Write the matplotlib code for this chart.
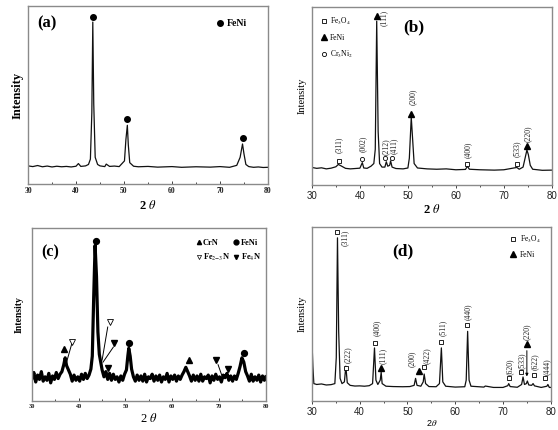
import matplotlib
matplotlib.use("Agg")
import matplotlib.pyplot as plt
from matplotlib.lines import Line2D
from matplotlib.ticker import MultipleLocator

plt.rcParams['mathtext.fontset'] = 'stix'

SERIF = 'Liberation Serif'
SANS = 'Liberation Sans'

# ---------------- data ----------------
# (a) FeNi only
a_x = [30, 31, 32, 33, 34, 35, 36, 37, 38, 39, 40, 40.5, 41, 42, 42.6, 43.0, 43.3, 43.5,
       43.7, 44.0, 44.5, 45, 46, 46.3, 47, 48, 49, 50.1, 50.4, 50.7, 50.9, 51.2, 52, 53,
       55, 57, 60, 62, 65, 68, 70, 72, 73.5, 74.2, 74.7, 75.0, 75.4, 76, 77, 78, 79, 80]
a_y = [10.2, 9.8, 10.4, 9.7, 10.1, 9.6, 10.0, 9.7, 9.9, 9.6, 10.0, 11.5, 9.9, 10.2, 11.0,
       14, 40, 91, 45, 15, 11, 10.2, 9.8, 11.2, 9.9, 10.1, 9.8, 13, 25, 33, 22, 12, 10.0,
       9.7, 9.9, 9.5, 9.8, 9.4, 9.7, 9.5, 9.8, 9.4, 10.5, 15, 22.5, 17, 11, 9.8, 9.4, 9.6,
       9.3, 9.4]
a_feni = ([43.5, 50.7, 74.7], [94, 36.5, 26])

# (b)
b_x = [30, 31, 32, 33, 34, 35, 35.5, 36, 37, 38, 39, 40, 40.5, 40.8, 41.5, 42.3, 42.9,
       43.2, 43.5, 43.8, 44.1, 44.6, 45.2, 45.5, 45.8, 46.2, 46.4, 46.7, 47.5, 49, 50,
       50.3, 50.7, 51.0, 51.3, 52, 54, 56, 58, 60, 62, 62.4, 62.8, 65, 68, 70, 72.7, 73.2,
       74, 74.5, 74.8, 75.1, 75.5, 76, 78, 80]
b_y = [9.8, 9.3, 9.6, 9.0, 9.4, 10.2, 11.5, 10.8, 9.3, 9.0, 9.2, 9.4, 12.5, 9.5, 9.3,
       10.5, 12, 20, 92, 30, 12, 10, 10, 13, 10.5, 11, 13.5, 10, 9.2, 9.0, 9.5, 15, 38, 25,
       12, 9.5, 9.0, 8.8, 9.0, 8.5, 8.7, 10.5, 8.8, 8.5, 8.3, 8.5, 9.8, 8.8, 10, 16, 19.6,
       17, 11, 8.8, 8.2, 8.3]
b_fe3o4 = ([35.6, 62.4, 72.8], [13.5, 11.8, 11.8])
b_feni = ([43.5, 50.7, 74.8], [95, 40, 22])
b_cr3ni2 = ([40.5, 45.2, 46.7], [14.6, 15, 15])
b_hkl = ['(311)', '(002)', '(111)', '(212)', '(411)', '(200)', '(400)', '(533)', '(220)']
b_hkl_x = [35.6, 40.6, 45.0, 45.3, 47.1, 51.0, 62.4, 72.8, 74.9]
b_hkl_y = [22.5, 23, 93.8, 21.3, 22, 49.4, 19.7, 20.2, 29]

# (c) noisy nitrided pattern
c_x = [30.0, 30.4, 30.8, 31.2, 31.6, 32.0, 32.4, 32.8, 33.2, 33.6, 34.0, 34.4, 34.8, 35.2,
       35.6, 36.0, 36.4, 36.8, 37.1, 37.4, 37.8, 38.2, 38.6, 39.0, 39.4, 39.8, 40.2, 40.6,
       41.0, 41.4, 41.8, 42.2, 42.6, 42.9, 43.2, 43.5, 43.8, 44.1, 44.4, 44.7, 45.0, 45.4,
       45.8, 46.2, 46.6, 47.0, 47.4, 47.8, 48.2, 48.6, 49.0, 49.4, 49.8, 50.2, 50.5, 50.7,
       51.0, 51.3, 51.7, 52.1, 52.5, 52.9, 53.3, 53.7, 54.1, 54.5, 54.9, 55.3, 55.7, 56.1,
       56.5, 56.9, 57.3, 57.7, 58.1, 58.5, 58.9, 59.3, 59.7, 60.1, 60.5, 60.9, 61.3, 61.7,
       62.1, 62.5, 62.9, 63.3, 63.7, 64.1, 64.5, 64.9, 65.3, 65.7, 66.1, 66.5, 66.9, 67.3,
       67.7, 68.1, 68.5, 68.9, 69.3, 69.7, 70.1, 70.5, 70.9, 71.3, 71.7, 72.1, 72.5, 72.9,
       73.3, 73.7, 74.1, 74.5, 74.9, 75.3, 75.7, 76.1, 76.5, 76.9, 77.3, 77.7, 78.1, 78.5,
       78.9, 79.3, 79.7, 80.0]
c_y = [13, 16.5, 11, 15, 12.5, 17, 11.5, 14, 12, 16, 10.5, 14.5, 12.5, 16.5, 13, 15.5, 17,
       21, 25, 20.5, 18, 15.5, 11.5, 15, 12, 14, 11.5, 15.5, 12.5, 16, 13, 15, 18.5, 26, 60,
       90, 72, 40, 27, 22.5, 18, 14, 17, 12.5, 16, 12, 15.5, 12.5, 14, 11, 14.5, 12, 15.5,
       18, 26, 30.5, 26, 18.5, 14, 11.5, 15, 12, 14.5, 11.5, 15.5, 11, 14, 13, 15.5, 11.5,
       14.5, 12, 15, 11, 14, 12.5, 16, 11, 14.5, 12.5, 15, 11.5, 14.5, 12.5, 15, 17, 19.5,
       17, 14.5, 11.5, 15, 12, 14.5, 11.5, 15.5, 11.5, 14, 13, 15, 10.5, 14.5, 12, 15.5,
       12.5, 14, 11, 15, 13.5, 16, 12, 14.5, 11.5, 14.5, 12.5, 16, 20, 25, 22.5, 17, 14.5,
       11.5, 15.5, 11.5, 14, 12, 15, 11, 14.5, 12, 14]
c_crn = ([36.9, 63.5], [30, 23.7])
c_feni = ([43.7, 50.7, 75.3], [92.5, 33.5, 27.7])
c_fe23n = ([38.5, 46.7], [34, 45.7])
c_fe4n = ([47.6, 46.3, 69.3, 71.9], [33.5, 19, 23.7, 18.5])
c_leaders = [((38.5, 33.0), (37.4, 22.5)), ((46.2, 42.8), (45.0, 23.7)),
             ((47.4, 31.2), (45.2, 22.5)), ((69.8, 21.0), (70.8, 13.3))]

# (d)
d_x = [30.0, 30.2, 30.4, 31, 32, 33, 34, 34.8, 35.1, 35.35, 35.6, 35.9, 36.3, 36.8, 37.1,
       37.4, 38, 39, 40, 41, 42, 42.7, 43.1, 43.4, 43.8, 44.3, 44.5, 44.7, 45.5, 47, 49,
       50.5, 51.4, 51.7, 52.0, 52.8, 53.3, 53.5, 53.8, 54.5, 56, 56.7, 57.1, 57.4, 58, 60,
       62, 62.3, 62.6, 62.9, 63.3, 66, 66.3, 68, 70, 71.0, 71.2, 71.5, 73, 73.9, 74.2, 74.5,
       74.9, 75.1, 75.4, 76.0, 76.3, 76.6, 78, 79.2, 79.4, 79.7, 80]
d_y = [35, 20, 10, 9.5, 9.8, 9.2, 9.4, 10, 25, 93.7, 40, 13, 10, 11, 20, 10.5, 9, 8.6,
       8.7, 8.5, 8.8, 10, 30.5, 12, 9.5, 12, 16.5, 10, 8.5, 8.3, 8.2, 8.3, 9, 13, 9, 8.5,
       11, 15.5, 10, 8.3, 8.2, 10, 30.5, 11, 8.5, 8, 8.2, 12, 40, 12, 8.5, 8, 8.6, 7.8,
       7.8, 8.8, 10, 8.3, 7.9, 9.5, 13.8, 9.5, 10, 11.5, 9.2, 9.0, 10, 8.7, 7.8, 8.5, 9.5,
       7.8, 7.8]
d_fe3o4 = ([35.3, 37.05, 43.2, 53.5, 57.0, 62.5, 71.3, 73.8, 76.5, 78.9],
           [97, 18.8, 33.5, 19.7, 34, 43.7, 13, 16.5, 15, 13])
d_feni = ([44.4, 52.4, 75.0], [19.2, 17.2, 32.6])
d_hkl = ['(311)', '(222)', '(400)', '(111)', '(200)', '(422)', '(511)', '(440)', '(620)',
         '(533)', '(220)', '(622)', '(444)']
d_hkl_x = [36.9, 37.6, 43.5, 44.9, 51.0, 54.0, 57.5, 62.6, 71.4, 73.9, 75.0, 76.7, 79.1]
d_hkl_y = [94, 26.8, 41.8, 26, 24.1, 26, 41.8, 51.3, 19.7, 23, 39.8, 22.6, 19.7]

FRAME = '#8a8a8a'


def setup(ax, tickfont, tickweight, ticksize, direction):
    ax.set_xlim(30, 80)
    ax.set_ylim(0, 100)
    ax.set_yticks([])
    ax.xaxis.set_major_locator(MultipleLocator(10))
    ax.xaxis.set_minor_locator(MultipleLocator(5))
    ax.tick_params(axis='x', which='major', direction=direction, length=2.5, width=0.6,
                   pad=2, colors='#222222', labelsize=ticksize)
    ax.tick_params(axis='x', which='minor', direction=direction, length=1.5, width=0.5)
    for lab in ax.get_xticklabels():
        lab.set_fontfamily(tickfont)
        lab.set_fontweight(tickweight)
    for sp in ax.spines.values():
        sp.set_color(FRAME)
        sp.set_linewidth(1.0)


fig = plt.figure(figsize=(5.58, 4.30), dpi=100)

# ---------------- (a) ----------------
ax = fig.add_axes([0.0502, 0.572, 0.430, 0.414])
ax.plot(a_x, a_y, color='#111111', lw=0.9)
ax.plot(*a_feni, 'o', color='black', ms=4)
setup(ax, SERIF, 'bold', 5.5, 'in')
ax.set_ylabel('Intensity', fontfamily=SERIF, fontweight='bold', fontsize=9, labelpad=3)
ax.set_xlabel(r'2 $\theta$', fontfamily=SERIF, fontweight='bold', fontsize=9, labelpad=3)
ax.text(0.04, 0.90, '(a)', transform=ax.transAxes, fontfamily=SERIF, fontweight='bold',
        fontsize=12, va='center')
ax.legend([Line2D([], [], ls='', marker='o', color='black', ms=4)], ['FeNi'],
          loc='center left', bbox_to_anchor=(0.77, 0.90), frameon=False, handlelength=0.7,
          handletextpad=0.3, borderaxespad=0,
          prop={'family': SERIF, 'weight': 'bold', 'size': 7})

# ---------------- (b) ----------------
ax = fig.add_axes([0.559, 0.570, 0.430, 0.414])
ax.plot(b_x, b_y, color='#111111', lw=0.9)
ax.plot(*b_fe3o4, 's', mfc='white', mec='black', mew=0.6, ms=3)
ax.plot(*b_feni, '^', color='black', ms=3.8)
ax.plot(*b_cr3ni2, 'o', mfc='white', mec='black', mew=0.6, ms=3)
for t, x, y in zip(b_hkl, b_hkl_x, b_hkl_y):
    ax.text(x, y, t, rotation=90, ha='center', va='center', fontfamily=SERIF, fontsize=5.5,
            color='#222222')
setup(ax, SANS, 'normal', 7, 'out')
ax.set_ylabel('Intensity', fontfamily=SERIF, fontsize=7.5, labelpad=4)
ax.set_xlabel(r'2 $\theta$', fontfamily=SERIF, fontweight='bold', fontsize=9, labelpad=1)
ax.text(0.38, 0.885, '(b)', transform=ax.transAxes, fontfamily=SERIF, fontweight='bold',
        fontsize=12.5, va='center')
ax.legend([Line2D([], [], ls='', marker='s', mfc='white', mec='black', mew=0.6, ms=3),
           Line2D([], [], ls='', marker='^', color='black', ms=3.8),
           Line2D([], [], ls='', marker='o', mfc='white', mec='black', mew=0.6, ms=3)],
          [r'Fe$_3$O$_4$', 'FeNi', r'Cr$_3$Ni$_2$'],
          loc='upper left', bbox_to_anchor=(0.025, 0.965), frameon=False, handlelength=0.7,
          handletextpad=0.5, labelspacing=0.85, borderaxespad=0,
          prop={'family': SERIF, 'size': 5.5})

# ---------------- (c) ----------------
ax = fig.add_axes([0.0573, 0.0674, 0.419, 0.402])
ax.plot(c_x, c_y, color='black', lw=2.3)
for (x0, y0), (x1, y1) in c_leaders:
    ax.plot([x0, x1], [y0, y1], color='black', lw=0.7)
ax.plot(*c_crn, '^', color='black', ms=3.8)
ax.plot(*c_feni, 'o', color='black', ms=4.2)
ax.plot(*c_fe23n, 'v', mfc='white', mec='black', mew=0.6, ms=4)
ax.plot(*c_fe4n, 'v', color='black', ms=3.8)
setup(ax, SERIF, 'bold', 4.5, 'in')
ax.set_ylabel('Intensity', fontfamily=SERIF, fontweight='bold', fontsize=7, labelpad=6)
ax.set_xlabel(r'2 $\theta$', fontfamily=SERIF, fontsize=9, labelpad=2)
ax.text(0.04, 0.86, '(c)', transform=ax.transAxes, fontfamily=SERIF, fontweight='bold',
        fontsize=11.5, va='center')
ax.legend([Line2D([], [], ls='', marker='^', color='black', ms=3),
           Line2D([], [], ls='', marker='v', mfc='white', mec='black', mew=0.5, ms=3),
           Line2D([], [], ls='', marker='o', color='black', ms=3.5),
           Line2D([], [], ls='', marker='v', color='black', ms=3)],
          ['CrN', r'Fe$_{2\mathrm{-}3}$N', 'FeNi', r'Fe$_4$N'],
          ncol=2, loc='upper left', bbox_to_anchor=(0.69, 0.955), frameon=False,
          handlelength=0.5, handletextpad=0.25, columnspacing=0.5, labelspacing=0.5,
          borderaxespad=0, prop={'family': SERIF, 'weight': 'bold', 'size': 6})

# ---------------- (d) ----------------
ax = fig.add_axes([0.559, 0.0674, 0.428, 0.405])
ax.plot(d_x, d_y, color='#111111', lw=0.9)
ax.annotate('', xy=(75.0, 12.5), xytext=(75.0, 30.5),
            arrowprops=dict(arrowstyle='-|>', color='black', lw=0.7, mutation_scale=4))
ax.plot(*d_fe3o4, 's', mfc='white', mec='black', mew=0.6, ms=3)
ax.plot(*d_feni, '^', color='black', ms=3.8)
for t, x, y in zip(d_hkl, d_hkl_x, d_hkl_y):
    ax.text(x, y, t, rotation=90, ha='center', va='center', fontfamily=SERIF, fontsize=5.5,
            color='#222222')
setup(ax, SANS, 'normal', 7, 'out')
ax.set_ylabel('Intensity', fontfamily=SERIF, fontsize=7.5, labelpad=4)
ax.set_xlabel(r'2$\theta$', fontfamily=SANS, fontsize=6.5, labelpad=0.5)
ax.text(0.335, 0.86, '(d)', transform=ax.transAxes, fontfamily=SERIF, fontweight='bold',
        fontsize=12.5, va='center')
ax.legend([Line2D([], [], ls='', marker='s', mfc='white', mec='black', mew=0.6, ms=3),
           Line2D([], [], ls='', marker='^', color='black', ms=3.8)],
          [r'Fe$_3$O$_4$', 'FeNi'],
          loc='upper left', bbox_to_anchor=(0.82, 0.98), frameon=False, handlelength=0.7,
          handletextpad=0.5, labelspacing=0.85, borderaxespad=0,
          prop={'family': SERIF, 'size': 5.5})

fig.savefig('out.png', dpi=100)
